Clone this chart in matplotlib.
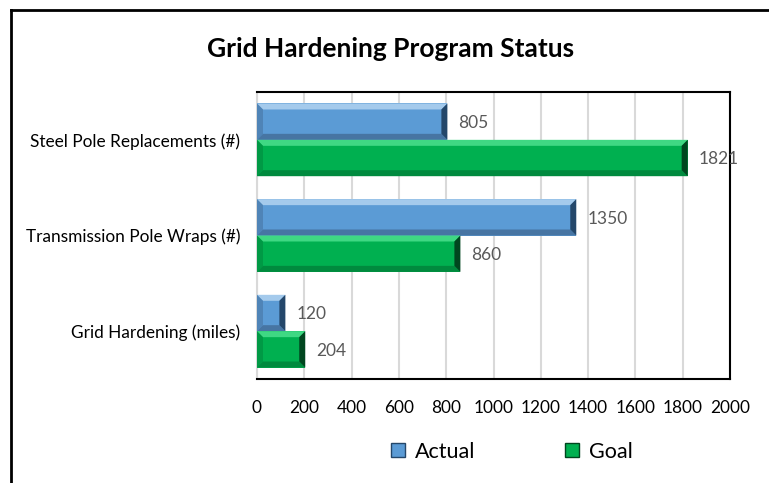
import matplotlib.pyplot as plt
from matplotlib.patches import Polygon
from matplotlib.lines import Line2D

plt.rcParams['font.family'] = ['Lato', 'DejaVu Sans']

# data
categories = ['Grid Hardening (miles)', 'Transmission Pole Wraps (#)', 'Steel Pole Replacements (#)']
actual = [120, 1350, 805]
goal = [204, 860, 1821]
xticks = list(range(0, 2001, 200))

colors = {
    'Actual': {'base': '#5B9BD5', 'light': '#A4CAEC', 'dark': '#4775A3', 'end': '#24476A'},
    'Goal': {'base': '#00B050', 'light': '#3FD883', 'dark': '#008A3E', 'end': '#00461F'},
}

fig = plt.figure(figsize=(7.69, 4.83), dpi=100)
ax = fig.add_axes([257 / 769, 1 - 379 / 483, (730 - 257) / 769, (379 - 92) / 483])

ax.set_xlim(0, 2000)
ax.set_ylim(-0.5, 2.5)
h = 0.38

# bevel size in data units (about 6 px)
bw = fig.get_size_inches()[0] * fig.dpi * ax.get_position().width
bh = fig.get_size_inches()[1] * fig.dpi * ax.get_position().height
dx = 6 * 2000 / bw
dy = 6 * 3 / bh


def bevel_bar(y, v, c):
    x0, x1 = 0, v
    y0, y1 = y - h / 2, y + h / 2
    ex = min(dx, v / 3)
    ax.barh(y, v, height=h, color=c['base'], edgecolor='none', zorder=3)
    # top highlight
    ax.add_patch(Polygon([(x0, y1), (x1, y1), (x1 - ex, y1 - dy), (x0 + ex, y1 - dy)],
                         closed=True, color=c['light'], lw=0, zorder=4))
    # bottom shadow
    ax.add_patch(Polygon([(x0, y0), (x1, y0), (x1 - ex, y0 + dy), (x0 + ex, y0 + dy)],
                         closed=True, color=c['dark'], lw=0, zorder=4))
    # right end
    ax.add_patch(Polygon([(x1, y0), (x1, y1), (x1 - ex, y1 - dy), (x1 - ex, y0 + dy)],
                         closed=True, color=c['end'], lw=0, zorder=4))
    # left end
    ax.add_patch(Polygon([(x0, y0), (x0, y1), (x0 + ex, y1 - dy), (x0 + ex, y0 + dy)],
                         closed=True, color=c['dark'], lw=0, zorder=4, alpha=0.6))
    ax.annotate(str(v), (v, y), xytext=(8, -1), textcoords='offset points',
                va='center', ha='left', fontsize=12.5, color='#595959', zorder=6)


for i in range(len(categories)):
    bevel_bar(i + h / 2, actual[i], colors['Actual'])
    bevel_bar(i - h / 2, goal[i], colors['Goal'])

ax.set_xticks(xticks)
ax.set_yticks(range(len(categories)))
ax.set_yticklabels(categories)
ax.tick_params(axis='both', length=0, labelsize=12.4, colors='#000000')
ax.tick_params(axis='y', pad=12)
ax.tick_params(axis='x', pad=15)
ax.xaxis.grid(True, color='#D9D9D9', lw=1.5, zorder=0)
ax.set_axisbelow(True)
for s in ['top', 'right', 'bottom']:
    ax.spines[s].set_color('black')
    ax.spines[s].set_linewidth(1.5)
ax.spines['left'].set_color('#D9D9D9')
ax.spines['left'].set_linewidth(1.5)

fig.text(391 / 769, 1 - 49 / 483, 'Grid Hardening Program Status', ha='center', va='center',
         fontsize=19, fontweight='bold')

handles = [
    Line2D([], [], marker='s', ls='none', markersize=10, markerfacecolor=colors['Actual']['base'],
           markeredgecolor=colors['Actual']['end'], markeredgewidth=1),
    Line2D([], [], marker='s', ls='none', markersize=10, markerfacecolor=colors['Goal']['base'],
           markeredgecolor=colors['Goal']['end'], markeredgewidth=1),
]
fig.legend(handles, ['Actual', 'Goal'], loc='center', bbox_to_anchor=(511 / 769, 1 - 452 / 483),
           ncol=2, frameon=False, fontsize=15.5, handlelength=0.8, handletextpad=0.4, columnspacing=4.1)

# outer chart border (left and top visible)
fig.add_artist(Line2D([11 / 769, 11 / 769], [0, 1 - 10 / 483], color='black', lw=2, transform=fig.transFigure))
fig.add_artist(Line2D([11 / 769, 1], [1 - 10 / 483, 1 - 10 / 483], color='black', lw=2, transform=fig.transFigure))

fig.savefig('out.png', dpi=100)
